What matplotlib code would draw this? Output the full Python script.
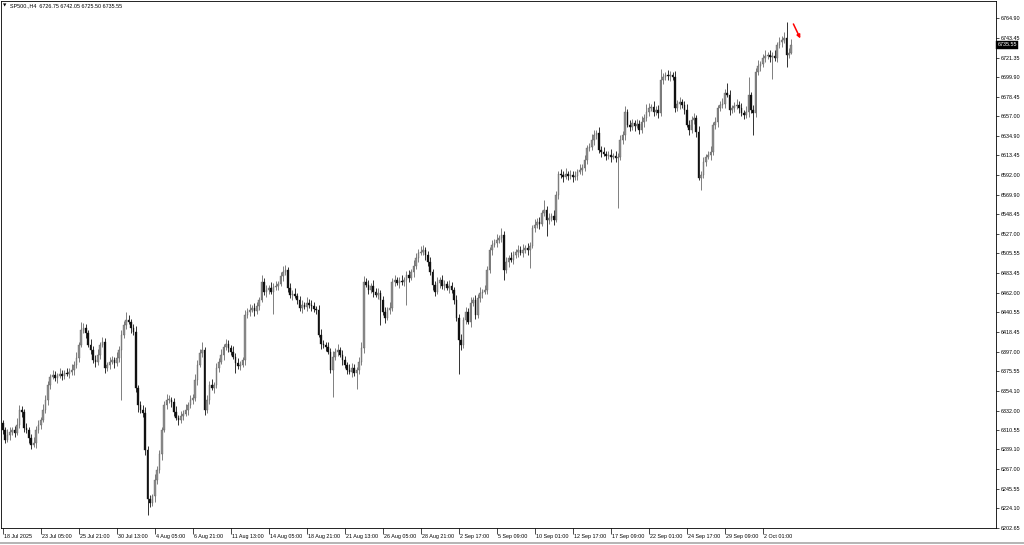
import numpy as np
import matplotlib
matplotlib.use("Agg")
import matplotlib.pyplot as plt
from matplotlib import transforms
from matplotlib.lines import Line2D

plt.rcParams['font.family'] = ['Liberation Sans', 'DejaVu Sans']

symbol = "SP500.,H4"
last_ohlc = [6726.75, 6742.05, 6725.50, 6735.55]
first_open = 6318.0

closes = [
6311.0, 6300.0, 6305.5, 6308.8, 6311.0, 6307.7, 6316.5, 6333.1, 6330.9, 6313.2,
6311.0, 6302.2, 6294.5, 6296.7, 6311.0, 6316.5, 6322.1, 6333.1, 6344.1, 6360.6,
6369.5, 6371.7, 6368.4, 6370.6, 6372.8, 6370.6, 6373.9, 6372.8, 6375.0, 6377.2,
6382.7, 6390.4, 6404.7, 6421.3, 6423.5, 6418.0, 6404.7, 6399.2, 6388.2, 6386.0,
6393.7, 6404.7, 6408.0, 6379.4, 6382.7, 6386.0, 6388.2, 6384.9, 6390.4, 6399.2,
6415.8, 6426.8, 6432.3, 6430.1, 6423.5, 6419.1, 6357.3, 6338.6, 6333.1, 6329.8,
6289.0, 6233.9, 6230.5, 6237.2, 6255.9, 6266.9, 6283.5, 6311.0, 6338.6, 6344.1,
6344.1, 6341.9, 6330.9, 6324.3, 6322.1, 6326.5, 6328.7, 6333.1, 6338.6, 6344.1,
6346.3, 6366.2, 6382.7, 6395.9, 6399.2, 6333.1, 6344.1, 6360.6, 6357.3, 6360.6,
6379.4, 6386.0, 6393.7, 6402.5, 6405.8, 6401.4, 6397.0, 6391.5, 6384.9, 6381.6,
6382.7, 6388.2, 6437.8, 6441.1, 6443.3, 6445.5, 6442.2, 6447.7, 6454.4, 6474.2,
6463.2, 6465.4, 6467.6, 6463.2, 6468.7, 6469.8, 6472.0, 6480.8, 6485.2, 6487.4,
6467.6, 6459.9, 6461.0, 6458.8, 6454.4, 6445.5, 6448.8, 6446.6, 6451.0, 6448.8,
6447.7, 6444.4, 6443.3, 6415.8, 6405.8, 6404.7, 6402.5, 6397.0, 6377.2, 6391.5,
6397.0, 6399.2, 6393.7, 6388.2, 6382.7, 6377.2, 6375.0, 6379.4, 6373.9, 6377.2,
6386.0, 6401.4, 6474.2, 6470.9, 6465.4, 6469.8, 6463.2, 6459.9, 6462.1, 6454.4,
6441.1, 6434.5, 6443.3, 6445.5, 6474.2, 6476.4, 6473.1, 6475.3, 6474.2, 6476.4,
6481.9, 6478.6, 6485.2, 6491.8, 6500.7, 6506.2, 6507.3, 6509.5, 6504.0, 6496.2,
6485.2, 6470.9, 6463.2, 6473.1, 6476.4, 6469.8, 6472.0, 6467.6, 6469.8, 6465.4,
6454.4, 6434.5, 6410.3, 6404.7, 6432.3, 6441.1, 6430.1, 6451.0, 6454.4, 6437.8,
6456.6, 6462.1, 6463.2, 6465.4, 6487.4, 6509.5, 6515.0, 6517.2, 6520.5, 6522.7,
6526.0, 6487.4, 6496.2, 6500.7, 6498.5, 6504.0, 6507.3, 6509.5, 6506.2, 6509.5,
6511.7, 6509.5, 6513.9, 6533.7, 6537.0, 6540.3, 6538.1, 6550.3, 6553.6, 6542.6,
6544.8, 6547.0, 6542.6, 6570.1, 6593.3, 6592.2, 6590.0, 6593.3, 6591.1, 6592.2,
6590.0, 6591.1, 6595.5, 6597.7, 6599.9, 6608.7, 6621.9, 6623.0, 6630.8, 6636.3,
6638.5, 6619.7, 6617.5, 6615.3, 6613.1, 6614.2, 6612.0, 6613.1, 6610.9, 6612.0,
6630.8, 6636.3, 6661.6, 6647.3, 6645.1, 6649.5, 6646.2, 6648.4, 6641.8, 6650.6,
6655.0, 6661.6, 6666.0, 6667.1, 6661.6, 6663.8, 6660.5, 6696.9, 6700.2, 6702.4,
6701.3, 6702.4, 6700.2, 6666.0, 6670.4, 6672.6, 6669.3, 6663.8, 6647.3, 6641.8,
6652.8, 6655.0, 6639.6, 6588.9, 6592.2, 6606.5, 6612.0, 6614.2, 6617.5, 6647.3,
6650.6, 6666.0, 6669.3, 6670.4, 6682.6, 6680.4, 6663.8, 6666.0, 6668.2, 6669.3,
6666.0, 6660.5, 6658.3, 6661.6, 6680.4, 6663.8, 6660.5, 6705.7, 6712.3, 6714.5,
6721.2, 6723.4, 6724.5, 6722.3, 6723.4, 6721.2, 6735.5, 6738.8, 6741.0, 6743.2,
6724.5, 6726.75, 6735.55]

upper_wick = [
4, 3, 6, 5, 3, 4, 7, 5, 4, 3,
5, 3, 4, 6, 4, 5, 3, 6, 5, 4,
3, 5, 4, 3, 6, 4, 3, 5, 4, 6,
4, 6, 3, 8, 5, 4, 3, 6, 4, 5,
6, 3, 5, 4, 3, 5, 4, 3, 6, 4,
5, 4, 8, 5, 3, 4, 6, 3, 4, 5,
6, 4, 5, 3, 6, 4, 5, 3, 4, 6,
5, 3, 4, 6, 3, 5, 4, 6, 3, 5,
4, 6, 5, 4, 8, 3, 5, 4, 6, 3,
5, 4, 6, 3, 5, 4, 3, 6, 4, 5,
4, 3, 5, 4, 6, 3, 5, 4, 3, 7,
4, 5, 3, 6, 4, 5, 3, 4, 6, 5,
3, 5, 4, 6, 3, 4, 5, 3, 6, 4,
5, 4, 3, 5, 6, 4, 3, 5, 4, 6,
4, 6, 3, 5, 4, 3, 6, 5, 4, 3,
5, 6, 6, 4, 5, 3, 6, 4, 5, 3,
4, 5, 3, 6, 4, 5, 3, 4, 6, 3,
4, 5, 3, 6, 5, 4, 6, 5, 3, 4,
5, 3, 4, 6, 3, 5, 4, 3, 6, 4,
3, 5, 4, 6, 3, 5, 4, 6, 3, 5,
4, 6, 3, 5, 4, 3, 5, 4, 6, 3,
7, 4, 5, 3, 6, 4, 3, 5, 4, 6,
3, 5, 4, 3, 6, 4, 5, 3, 11, 4,
5, 3, 6, 4, 3, 5, 4, 6, 3, 5,
4, 5, 3, 6, 4, 5, 3, 4, 6, 5,
3, 6, 4, 5, 3, 4, 6, 3, 5, 4,
5, 4, 6, 3, 5, 4, 3, 5, 4, 6,
4, 9, 5, 3, 6, 4, 5, 12, 4, 3,
5, 4, 3, 6, 4, 5, 3, 4, 6, 5,
4, 5, 3, 6, 4, 5, 3, 4, 6, 3,
5, 3, 4, 6, 4, 11, 5, 3, 4, 6,
4, 5, 3, 6, 20, 3, 5, 4, 6, 3,
4, 6, 3, 5, 4, 6, 3, 5, 4, 6,
17, 5, 6.5]

lower_wick = [
5, 4, 3, 6, 4, 5, 3, 4, 6, 5,
4, 6, 5, 3, 6, 4, 5, 3, 4, 6,
5, 3, 4, 6, 3, 5, 4, 3, 5, 4,
6, 4, 5, 3, 4, 6, 3, 5, 4, 6,
4, 5, 3, 6, 4, 5, 3, 6, 4, 5,
56, 4, 5, 3, 6, 4, 5, 8, 4, 5,
6, 17, 5, 4, 6, 5, 4, 6, 3, 5,
4, 6, 5, 3, 6, 4, 5, 3, 6, 4,
5, 4, 6, 3, 5, 6, 4, 5, 3, 6,
4, 5, 3, 6, 4, 5, 4, 3, 12, 4,
5, 3, 6, 4, 5, 3, 6, 4, 5, 3,
4, 6, 5, 3, 25, 4, 5, 3, 6, 4,
5, 4, 6, 3, 5, 4, 6, 3, 5, 4,
6, 4, 5, 3, 6, 4, 5, 3, 4, 30,
4, 5, 3, 6, 4, 5, 3, 6, 4, 18,
5, 4, 6, 3, 5, 4, 6, 3, 5, 28,
4, 6, 3, 5, 4, 5, 3, 6, 4, 5,
28, 5, 3, 6, 4, 5, 3, 4, 6, 5,
4, 6, 5, 3, 6, 4, 5, 3, 6, 4,
5, 4, 38, 6, 4, 5, 3, 6, 4, 5,
4, 5, 6, 3, 5, 4, 6, 3, 5, 4,
5, 11, 4, 6, 3, 5, 4, 6, 3, 5,
4, 6, 20, 3, 5, 4, 6, 3, 4, 18,
5, 4, 6, 3, 5, 4, 6, 3, 5, 4,
6, 4, 5, 3, 6, 4, 5, 3, 4, 6,
5, 4, 6, 3, 5, 4, 6, 3, 5, 55,
4, 5, 6, 3, 5, 4, 6, 3, 5, 4,
6, 4, 5, 3, 5, 4, 6, 3, 5, 4,
5, 6, 4, 5, 3, 6, 4, 5, 3, 6,
4, 5, 6, 3, 14, 4, 5, 3, 6, 4,
5, 6, 3, 4, 5, 3, 6, 4, 5, 4,
6, 4, 5, 3, 6, 4, 24, 5, 3, 6,
4, 5, 3, 6, 24, 4, 5, 3, 6, 4,
13, 4, 1.25]

ytick_values = [6764.90, 6743.45, 6721.35, 6699.90, 6678.45, 6657.00, 6634.90,
                6613.45, 6592.00, 6569.90, 6548.45, 6527.00, 6505.55, 6483.45,
                6462.00, 6440.55, 6418.45, 6397.00, 6375.55, 6354.10, 6332.00,
                6310.55, 6289.10, 6267.00, 6245.55, 6224.10, 6202.65]

xtick_bars = [0, 16, 32, 48, 64, 80, 96, 112, 128, 144, 160, 176, 192, 208,
              224, 240, 256, 272, 288, 304, 320]
xtick_labels = ["18 Jul 2025", "23 Jul 05:00", "25 Jul 21:00", "30 Jul 13:00",
                "4 Aug 05:00", "6 Aug 21:00", "11 Aug 13:00", "14 Aug 05:00",
                "18 Aug 21:00", "21 Aug 13:00", "26 Aug 05:00", "28 Aug 21:00",
                "2 Sep 17:00", "5 Sep 09:00", "10 Sep 01:00", "12 Sep 17:00",
                "17 Sep 09:00", "22 Sep 01:00", "24 Sep 17:00", "29 Sep 09:00",
                "2 Oct 01:00"]

arrow_start = (332.9, 6758.5)
arrow_end = (335.8, 6742.5)

# ---- build OHLC ----
c = np.array(closes, dtype=float)
o = np.concatenate([[first_open], c[:-1]])
hi = np.maximum(o, c) + np.array(upper_wick, dtype=float)
lo = np.minimum(o, c) - np.array(lower_wick, dtype=float)
x = np.arange(len(c))

W, H = 1024, 545
fig = plt.figure(figsize=(W / 100, H / 100), dpi=100)
ax = fig.add_axes([1 / W, 17 / H, 995 / W, 527.5 / H])
ax.set_facecolor('white')

up = c >= o
bull_col = '#8f8f8f'
bear_col = '#111111'
wick_cols = np.where(up, '#6a6a6a', '#111111')
ax.vlines(x, lo, hi, colors=wick_cols, linewidth=0.6, zorder=2)
body_lo = np.minimum(o, c)
body_h = np.maximum(np.abs(c - o), 0.9)
ax.bar(x[up], body_h[up], bottom=body_lo[up], width=0.7, color=bull_col,
       edgecolor='#5a5a5a', linewidth=0.25, zorder=3)
ax.bar(x[~up], body_h[~up], bottom=body_lo[~up], width=0.7, color=bear_col,
       edgecolor=bear_col, linewidth=0.25, zorder=3)

ax.set_xlim(-0.72, 418.2)
ax.set_ylim(6202.4, 6784.4)

for s in ax.spines.values():
    s.set_color('black')
    s.set_linewidth(0.6)

ax.yaxis.tick_right()
ax.set_yticks(ytick_values)
ax.set_yticklabels([f"{v:.2f}" for v in ytick_values])
ax.tick_params(axis='y', length=2.5, width=0.5, pad=1.2, labelsize=3.9,
               colors='black')

ax.set_xticks(xtick_bars)
ax.set_xticklabels(xtick_labels)
ax.tick_params(axis='x', length=4, width=0.5, pad=0.6, labelsize=3.9,
               colors='black')
offset = transforms.ScaledTranslation(1.5 / 100, 0, fig.dpi_scale_trans)
for lab in ax.get_xticklabels():
    lab.set_horizontalalignment('left')
    lab.set_transform(lab.get_transform() + offset)

# current price label
trans = transforms.blended_transform_factory(ax.transAxes, ax.transData)
ax.text(1.0 + 1.5 / 995, last_ohlc[3], f"{last_ohlc[3]:.2f}", transform=trans,
        ha='left', va='center', color='white', fontsize=3.9, zorder=5,
        bbox=dict(boxstyle='square,pad=0.25', fc='black', ec='black', lw=0.3),
        clip_on=False)

# header
fig.text(3 / W, 1 - 5.5 / H, '\u25BC', fontsize=3.2, family='DejaVu Sans',
         va='center', ha='left', color='black')
fig.text(10 / W, 1 - 5.5 / H,
         f"{symbol}  " + " ".join(f"{v:.2f}" for v in last_ohlc),
         fontsize=3.9, va='center', ha='left', color='black')

# sell arrow
ax.annotate('', xy=arrow_end, xytext=arrow_start,
            arrowprops=dict(arrowstyle='-|>', color='#ff0000', lw=1.1,
                            mutation_scale=5, shrinkA=0, shrinkB=0), zorder=6)

# window bottom border
fig.add_artist(Line2D([0, 1], [2 / H, 2 / H], color='#a8a8a8', lw=1.2))

fig.savefig('out.png', dpi=100, facecolor='white')
